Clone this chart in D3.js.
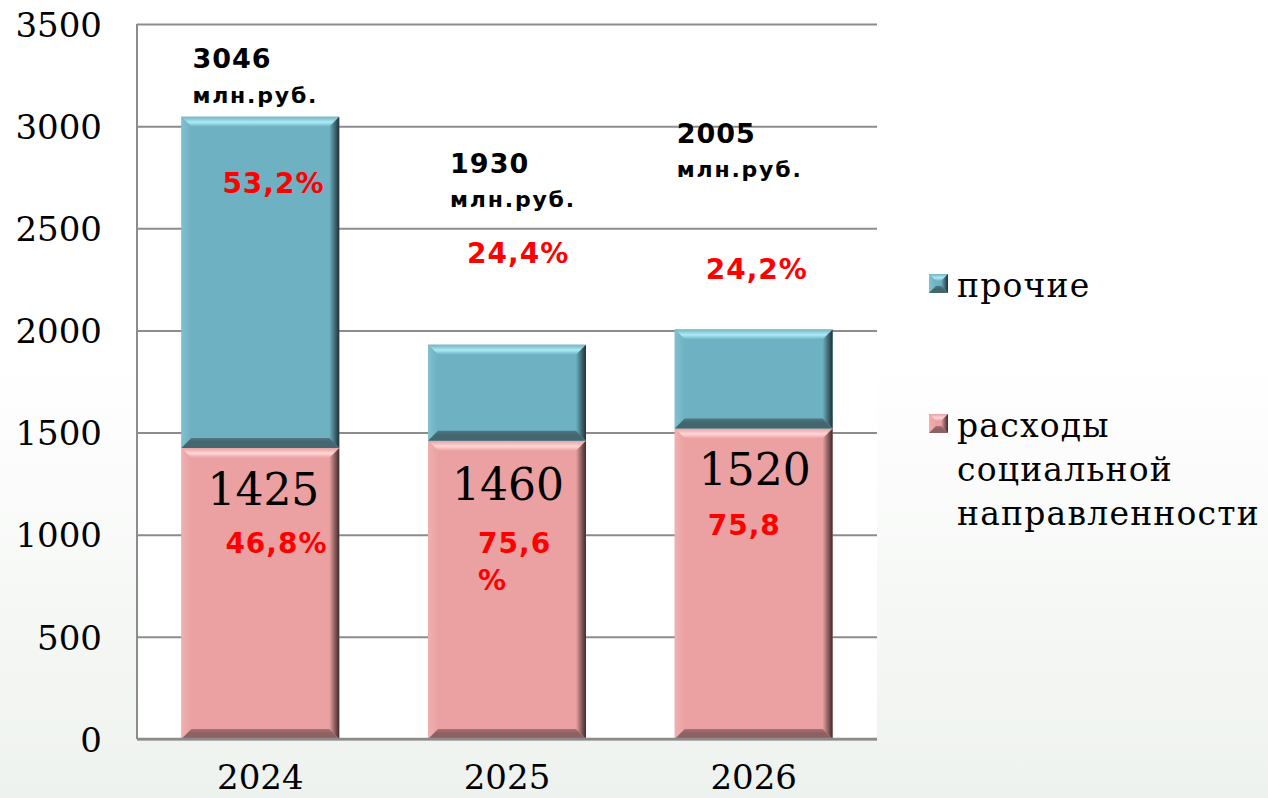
<!DOCTYPE html>
<html><head><meta charset="utf-8">
<script src="https://cdn.jsdelivr.net/npm/d3@7"></script>
<style>
html,body{margin:0;padding:0;}
body{width:1268px;height:798px;overflow:hidden;}
</style></head>
<body><svg id="c" width="1268" height="798"></svg>
<script>
const categories = ["2024", "2025", "2026"];
const socialValues = [1425, 1460, 1520];
const otherValues = [1621, 470, 485];
const totalLabels = ["3046", "1930", "2005"];
const unitLabel = "млн.руб.";
const otherPctLabels = ["53,2%", "24,4%", "24,2%"];
const socialPctLabels = [["46,8%"], ["75,6", "%"], ["75,8"]];
const yTicks = [0, 500, 1000, 1500, 2000, 2500, 3000, 3500];
const seriesNames = ["прочие", "расходы социальной направленности"];
const legendLines = [["прочие"], ["расходы", "социальной", "направленности"]];

// layout (pixel offsets from band start) kept separate from data
const layout = {
  total: [[11, 68, 103], [22, 173, 207], [2, 143, 177]],
  otherPct: [[41, 193], [39, 263], [31, 279]],
  socialVal: [[26, 505], [24, 500], [24, 485]],
  socialPct: [[44, 553], [50, 553], [33, 535]]
};

const svg = d3.select("#c");
const W = 1268, H = 798;
const defs = svg.append("defs");
const bg = defs.append("linearGradient").attr("id", "bg").attr("x1", 0).attr("y1", 0).attr("x2", 0).attr("y2", 1);
bg.append("stop").attr("offset", "0%").attr("stop-color", "#ffffff");
bg.append("stop").attr("offset", "45%").attr("stop-color", "#ffffff");
bg.append("stop").attr("offset", "100%").attr("stop-color", "#eef2ee");
svg.append("rect").attr("width", W).attr("height", H).attr("fill", "url(#bg)");

const pLeft = 137, pRight = 877, pTop = 24, pBottom = 739;
const x = d3.scaleBand().domain(categories).range([pLeft, pRight]).paddingInner(0.36).paddingOuter(0.18);
const y = d3.scaleLinear().domain([0, 3500]).range([pBottom, pTop]);

svg.append("rect").attr("x", pLeft).attr("y", pTop).attr("width", pRight - pLeft).attr("height", pBottom - pTop).attr("fill", "#ffffff");

// gridlines
const grid = d3.axisLeft(y).tickValues(yTicks).tickSize(-(pRight - pLeft)).tickFormat("");
const gg = svg.append("g").attr("transform", `translate(${pLeft},0)`).call(grid);
gg.select(".domain").remove();
gg.selectAll(".tick line").attr("stroke", "#8c8c8c").attr("stroke-width", 2);

// y axis labels
const ya = d3.axisLeft(y).tickValues(yTicks).tickFormat(d3.format("d")).tickSize(0).tickPadding(35);
const yg = svg.append("g").attr("transform", `translate(${pLeft},0)`).call(ya);
yg.select(".domain").remove();
yg.selectAll(".tick text").attr("font-family", "DejaVu Serif").attr("font-size", 34).attr("fill", "#000").attr("dy", "0.36em");

// colors
const pal = {
  other: {id: "o", main: "#6db1c2", edgeT: "#78b3c1", top: "#abeaf6", left: "#82c0cf", right: "#1e3035", bottom: "#43666f", bottomIn: "#4f7883"},
  social: {id: "s", main: "#eba1a2", edgeT: "#e6a2a3", top: "#ffd6d6", left: "#efb0b1", right: "#3f2828", bottom: "#8f6061", bottomIn: "#a87273"}
};

function grad(id, x1, y1, x2, y2, stops) {
  const g = defs.append("linearGradient").attr("id", id).attr("x1", x1).attr("y1", y1).attr("x2", x2).attr("y2", y2);
  stops.forEach(s => g.append("stop").attr("offset", s[0]).attr("stop-color", s[1]));
}
Object.values(pal).forEach(c => {
  grad(c.id + "T", 0, 0, 0, 1, [["0%", c.edgeT], ["55%", c.top], ["100%", c.main]]);
  grad(c.id + "L", 0, 0, 1, 0, [["0%", c.left], ["100%", c.main]]);
  grad(c.id + "R", 0, 0, 1, 0, [["0%", c.main], ["100%", c.right]]);
  grad(c.id + "B", 0, 0, 0, 1, [["0%", c.bottomIn], ["40%", c.bottom], ["100%", c.bottom]]);
});

function bevelRect(g, x0, y0, w, h, c, b) {
  b = Math.min(b, h / 2, w / 2);
  g.append("rect").attr("x", x0).attr("y", y0).attr("width", w).attr("height", h).attr("fill", c.main);
  const pts = (arr) => arr.map(p => p.join(",")).join(" ");
  g.append("polygon").attr("points", pts([[x0, y0], [x0 + w, y0], [x0 + w - b, y0 + b], [x0 + b, y0 + b]])).attr("fill", `url(#${c.id}T)`);
  g.append("polygon").attr("points", pts([[x0, y0], [x0 + b, y0 + b], [x0 + b, y0 + h - b], [x0, y0 + h]])).attr("fill", `url(#${c.id}L)`);
  g.append("polygon").attr("points", pts([[x0 + w, y0], [x0 + w, y0 + h], [x0 + w - b, y0 + h - b], [x0 + w - b, y0 + b]])).attr("fill", `url(#${c.id}R)`);
  g.append("polygon").attr("points", pts([[x0, y0 + h], [x0 + b, y0 + h - b], [x0 + w - b, y0 + h - b], [x0 + w, y0 + h]])).attr("fill", `url(#${c.id}B)`);
}

const bars = svg.append("g");
categories.forEach((cat, i) => {
  const x0 = x(cat), w = x.bandwidth();
  const s = socialValues[i], o = otherValues[i];
  bevelRect(bars, x0, y(s), w, y(0) - y(s), pal.social, 10);
  bevelRect(bars, x0, y(s + o), w, y(s) - y(s + o), pal.other, 10);
});

// axis lines
svg.append("line").attr("x1", pLeft).attr("x2", pLeft).attr("y1", pTop).attr("y2", pBottom).attr("stroke", "#8c8c8c").attr("stroke-width", 2);
svg.append("line").attr("x1", pLeft).attr("x2", pRight).attr("y1", pBottom).attr("y2", pBottom).attr("stroke", "#8c8c8c").attr("stroke-width", 2.5);

// x axis labels
const xa = d3.axisBottom(x).tickSize(0).tickPadding(26);
const xg = svg.append("g").attr("transform", `translate(0,${pBottom})`).call(xa);
xg.select(".domain").remove();
xg.selectAll(".tick text").attr("font-family", "DejaVu Serif").attr("font-size", 34).attr("fill", "#000");

// labels
const lab = svg.append("g");
categories.forEach((cat, i) => {
  const x0 = x(cat);
  const t = layout.total[i];
  lab.append("text").attr("x", x0 + t[0]).attr("y", t[1]).text(totalLabels[i])
    .attr("font-family", "DejaVu Sans").attr("font-weight", "bold").attr("font-size", 27).attr("letter-spacing", 1).attr("fill", "#000");
  lab.append("text").attr("x", x0 + t[0]).attr("y", t[2]).text(unitLabel)
    .attr("font-family", "DejaVu Sans").attr("font-weight", "bold").attr("font-size", 22).attr("letter-spacing", 1.8).attr("fill", "#000");
  const op = layout.otherPct[i];
  lab.append("text").attr("x", x0 + op[0]).attr("y", op[1]).text(otherPctLabels[i])
    .attr("font-family", "DejaVu Sans").attr("font-weight", "bold").attr("font-size", 28).attr("letter-spacing", 1).attr("fill", "#ff0000");
  const sv = layout.socialVal[i];
  lab.append("text").attr("x", x0 + sv[0]).attr("y", sv[1]).text(socialValues[i])
    .attr("font-family", "DejaVu Serif").attr("font-size", 44).attr("fill", "#000");
  const sp = layout.socialPct[i];
  socialPctLabels[i].forEach((ln, k) => {
    lab.append("text").attr("x", x0 + sp[0]).attr("y", sp[1] + k * 37).text(ln)
      .attr("font-family", "DejaVu Sans").attr("font-weight", "bold").attr("font-size", 28).attr("letter-spacing", 1).attr("fill", "#ff0000");
  });
});

// legend
const leg = svg.append("g");
const legY = [274, 414];
const legPal = [pal.other, pal.social];
legendLines.forEach((lines, i) => {
  bevelRect(leg, 929, legY[i], 19, 19, legPal[i], 7);
  lines.forEach((ln, k) => {
    leg.append("text").attr("x", 957).attr("y", legY[i] + 23 + k * 44).text(ln)
      .attr("font-family", "DejaVu Serif").attr("font-size", 33).attr("letter-spacing", 1.2).attr("fill", "#000");
  });
});
</script>
</body></html>
